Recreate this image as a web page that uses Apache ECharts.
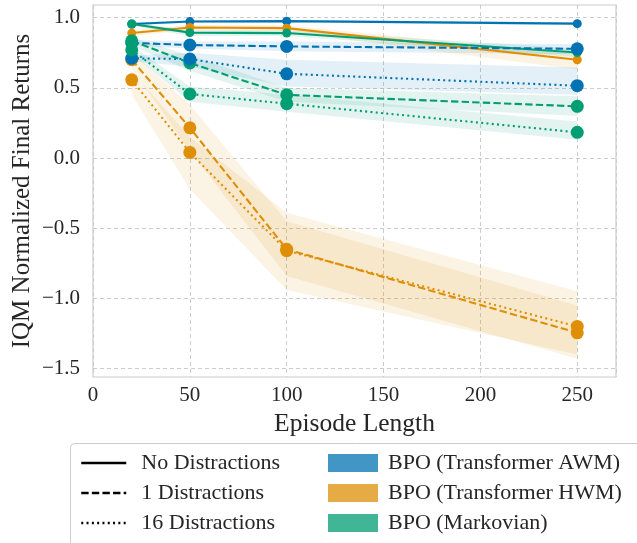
<!DOCTYPE html>
<html>
<head>
<meta charset="utf-8">
<script src="https://cdn.jsdelivr.net/npm/echarts@6/dist/echarts.min.js"></script>
<style>html,body{margin:0;padding:0;background:#fff}#c{width:637px;height:543px}</style>
</head>
<body>
<div id="c"></div>
<script>
// ---- data ----
const episodeLengths = [20, 50, 100, 250];
const xTickValues = [0, 50, 100, 150, 200, 250];
const yTickValues = [-1.5, -1.0, -0.5, 0.0, 0.5, 1.0];

// BPO (Transformer AWM)
const awmNone = [0.955, 0.972, 0.975, 0.957];
const awmNoneLo = [0.945, 0.962, 0.965, 0.945];
const awmNoneHi = [0.965, 0.982, 0.985, 0.967];
const awmOne = [0.82, 0.805, 0.795, 0.778];
const awmOneLo = [0.80, 0.78, 0.76, 0.74];
const awmOneHi = [0.84, 0.83, 0.83, 0.81];
const awmSixteen = [0.71, 0.705, 0.600, 0.515];
const awmSixteenLo = [0.69, 0.65, 0.51, 0.45];
const awmSixteenHi = [0.73, 0.75, 0.70, 0.645];

// BPO (Transformer HWM)
const hwmNone = [0.89, 0.93, 0.925, 0.70];
const hwmNoneLo = [0.87, 0.91, 0.90, 0.63];
const hwmNoneHi = [0.91, 0.95, 0.945, 0.74];
const hwmOne = [0.70, 0.215, -0.65, -1.245];
const hwmOneLo = [0.64, 0.05, -0.84, -1.43];
const hwmOneHi = [0.75, 0.38, -0.45, -1.05];
const hwmSixteen = [0.557, 0.04, -0.66, -1.20];
const hwmSixteenLo = [0.45, -0.22, -0.94, -1.40];
const hwmSixteenHi = [0.62, 0.15, -0.39, -0.95];

// BPO (Markovian)
const mkvNone = [0.955, 0.893, 0.89, 0.752];
const mkvNoneLo = [0.94, 0.87, 0.87, 0.72];
const mkvNoneHi = [0.97, 0.91, 0.91, 0.78];
const mkvOne = [0.835, 0.677, 0.45, 0.368];
const mkvOneLo = [0.80, 0.62, 0.40, 0.30];
const mkvOneHi = [0.86, 0.73, 0.50, 0.44];
const mkvSixteen = [0.77, 0.456, 0.387, 0.183];
const mkvSixteenLo = [0.74, 0.40, 0.33, 0.13];
const mkvSixteenHi = [0.80, 0.51, 0.45, 0.26];

const distractionNames = ['No Distractions', '1 Distractions', '16 Distractions'];
const modelNames = ['BPO (Transformer AWM)', 'BPO (Transformer HWM)', 'BPO (Markovian)'];

// ---- styling ----
const FONT = 'Liberation Serif';
const TXT = '#262626';
const GRIDC = '#cccccc';
const modelColors = ['#0173b2', '#de8f05', '#029e73'];
const modelRGB = [[1,115,178],[222,143,5],[2,158,115]];
const dashTypes = ['solid', [7.4, 3.2], [2, 3.3]];
const markerSizes = [9, 13, 13];

const yMin = -1.56, yMax = 1.09, xMin = 0, xMax = 270;
const gridTop = 5, gridBottom = 166, gridLeft = 93, gridRight = 21;
const plotH = 543 - gridTop - gridBottom;
const ppu = plotH / (yMax - yMin);
const tickTop = gridTop + (yMax - yTickValues[yTickValues.length - 1]) * ppu;
const tickBottom = gridBottom + (yTickValues[0] - yMin) * ppu;

// [model][distraction]
const table = [
  [[awmNone, awmNoneLo, awmNoneHi], [awmOne, awmOneLo, awmOneHi], [awmSixteen, awmSixteenLo, awmSixteenHi]],
  [[hwmNone, hwmNoneLo, hwmNoneHi], [hwmOne, hwmOneLo, hwmOneHi], [hwmSixteen, hwmSixteenLo, hwmSixteenHi]],
  [[mkvNone, mkvNoneLo, mkvNoneHi], [mkvOne, mkvOneLo, mkvOneHi], [mkvSixteen, mkvSixteenLo, mkvSixteenHi]]
];

const pts = arr => episodeLengths.map((x, i) => [x, arr[i]]);
const series = [];

// bands as polygons through the axis scales
for (let m = 0; m < 3; m++) {
  for (let d = 0; d < 3; d++) {
    const lo = table[m][d][1], hi = table[m][d][2];
    const c = modelRGB[m];
    series.push({
      type: 'custom', name: 'band_' + m + '_' + d, xAxisIndex: 0, yAxisIndex: 0,
      data: [[episodeLengths[0], lo[0]]], z: 1, silent: true, clip: true,
      renderItem: (params, api) => {
        const upper = episodeLengths.map((x, i) => api.coord([x, hi[i]]));
        const lower = episodeLengths.map((x, i) => api.coord([x, lo[i]])).reverse();
        return { type: 'polygon', shape: { points: upper.concat(lower) },
          style: { fill: `rgba(${c[0]},${c[1]},${c[2]},0.11)`, stroke: 'none' } };
      }
    });
  }
}

// lines: order by distraction level, then model
for (let d = 0; d < 3; d++) {
  for (let m = 0; m < 3; m++) {
    const mid = table[m][d][0];
    series.push({
      type: 'line', name: 'l_' + m + '_' + d, xAxisIndex: 0, yAxisIndex: 0,
      data: pts(mid), symbol: 'circle', symbolSize: markerSizes[d], showSymbol: true,
      lineStyle: { color: modelColors[m], width: 2.1, type: dashTypes[d] },
      itemStyle: { color: modelColors[m], borderWidth: 0 },
      z: 3 + d, silent: true
    });
  }
}

// dummy series for legends
distractionNames.forEach((n, d) => series.push({
  type: 'line', name: n, xAxisIndex: 0, yAxisIndex: 0, data: [], symbol: 'none',
  lineStyle: { color: '#000', width: 2, type: dashTypes[d] }, itemStyle: { color: '#000' }
}));
modelNames.forEach((n, m) => series.push({
  type: 'line', name: n, xAxisIndex: 0, yAxisIndex: 0, data: [], symbol: 'none',
  itemStyle: { color: `rgba(${modelRGB[m].join(',')},0.75)` }
}));

const fmtY = v => (v < 0 ? '\u2212' : '') + Math.abs(v).toFixed(1);

const option = {
  animation: false,
  backgroundColor: '#fff',
  grid: [
    { left: gridLeft, right: gridRight, top: gridTop, bottom: gridBottom, show: true, borderColor: GRIDC, borderWidth: 1.2 },
    { left: gridLeft, right: gridRight, top: tickTop, bottom: tickBottom }
  ],
  xAxis: [
    { type: 'value', gridIndex: 0, min: xMin, max: xMax, interval: 50,
      axisLine: { show: false }, axisTick: { show: false },
      axisLabel: { fontFamily: FONT, fontSize: 21, color: TXT, margin: 8, showMaxLabel: false,
        formatter: v => xTickValues.includes(v) ? String(v) : '' },
      splitLine: { show: true, lineStyle: { color: GRIDC, width: 1, type: [4, 3] } },
      name: 'Episode Length', nameLocation: 'middle', nameGap: 32,
      nameTextStyle: { fontFamily: FONT, fontSize: 25.5, color: TXT } },
    { type: 'value', gridIndex: 1, min: xMin, max: xMax, show: false }
  ],
  yAxis: [
    { type: 'value', gridIndex: 0, min: yMin, max: yMax,
      axisLine: { show: false }, axisTick: { show: false }, axisLabel: { show: false },
      splitLine: { show: false },
      name: 'IQM Normalized Final Returns', nameLocation: 'middle', nameGap: 58,
      nameTextStyle: { fontFamily: FONT, fontSize: 25, color: TXT } },
    { type: 'value', gridIndex: 1, min: yTickValues[0], max: yTickValues[yTickValues.length - 1], interval: 0.5,
      axisLine: { show: false }, axisTick: { show: false },
      axisLabel: { fontFamily: FONT, fontSize: 21, color: TXT, margin: 13, formatter: fmtY },
      splitLine: { show: true, lineStyle: { color: GRIDC, width: 1, type: [4, 3] } } }
  ],
  legend: [
    { orient: 'vertical', left: 75, top: 447, itemWidth: 45, itemHeight: 14, itemGap: 8,
      selectedMode: false,
      data: distractionNames.map((n, d) => ({ name: n, itemStyle: { opacity: 0 },
        lineStyle: { color: '#000', width: 2.5, type: dashTypes[d] } })),
      textStyle: { fontFamily: FONT, fontSize: 22, color: TXT, lineHeight: 22, padding: [0, 0, 0, 10] } },
    { orient: 'vertical', left: 323, top: 447, itemWidth: 50, itemHeight: 18, itemGap: 8,
      selectedMode: false,
      data: modelNames.map((n, m) => ({ name: n, icon: 'rect',
        itemStyle: { color: `rgba(${modelRGB[m].join(',')},0.75)` } })),
      textStyle: { fontFamily: FONT, fontSize: 22, color: TXT, lineHeight: 22, padding: [0, 0, 0, 5] } }
  ],
  graphic: [
    { type: 'rect', z: 0, shape: { x: 70.5, y: 443.5, width: 620, height: 140, r: 4 },
      style: { fill: '#fff', stroke: GRIDC, lineWidth: 1 } }
  ],
  series
};

const chart = echarts.init(document.getElementById('c'), null, { renderer: 'canvas' });
chart.setOption(option);
</script>
</body>
</html>
